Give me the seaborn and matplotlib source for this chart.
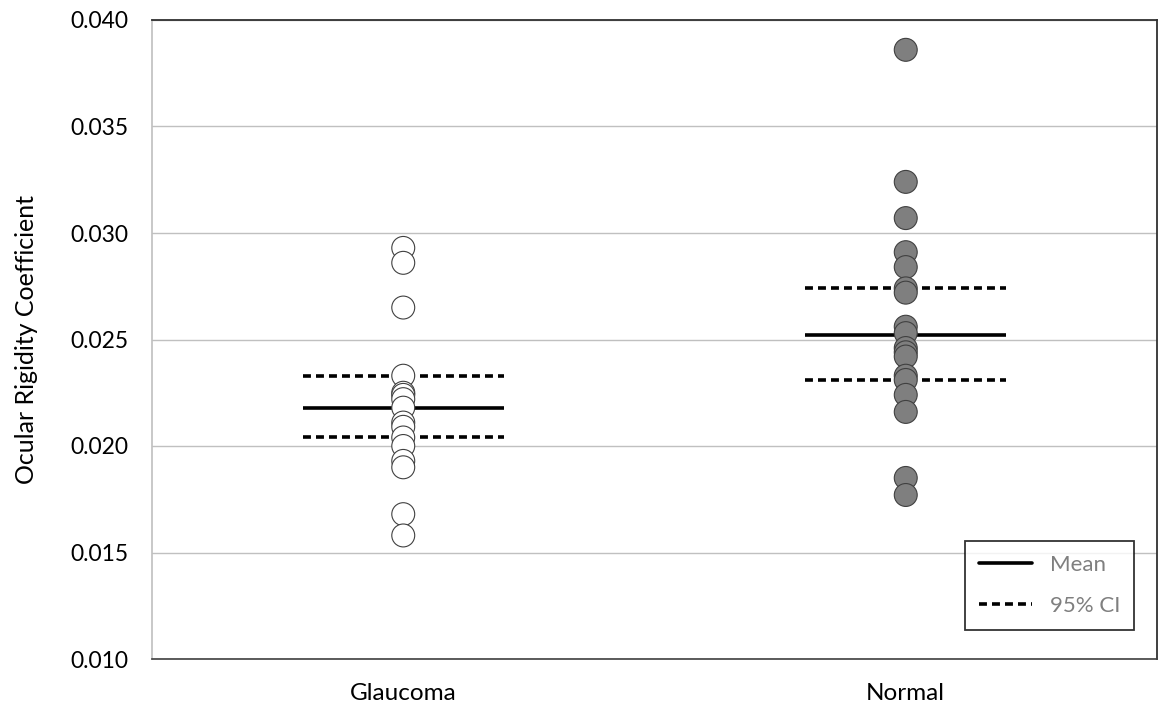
import matplotlib
matplotlib.use("Agg")
import matplotlib.pyplot as plt
import seaborn as sns
import pandas as pd
from matplotlib.lines import Line2D

categories = ["Glaucoma", "Normal"]
glaucoma = [0.0293, 0.0286, 0.0265, 0.0233, 0.0225, 0.0224, 0.0222, 0.0218,
            0.0211, 0.0209, 0.0204, 0.0200, 0.0193, 0.0190, 0.0168, 0.0158]
normal = [0.0386, 0.0324, 0.0307, 0.0291, 0.0284, 0.0274, 0.0272, 0.0256,
          0.0253, 0.0246, 0.0244, 0.0242, 0.0233, 0.0231, 0.0224, 0.0216,
          0.0185, 0.0177]
means = [0.0218, 0.0252]
ci_low = [0.0204, 0.0231]
ci_high = [0.0233, 0.0274]
yticks = [0.010, 0.015, 0.020, 0.025, 0.030, 0.035, 0.040]

df = pd.DataFrame({
    "group": ["Glaucoma"] * len(glaucoma) + ["Normal"] * len(normal),
    "value": glaucoma + normal,
})

sns.set_theme(style="white")
plt.rcParams["font.family"] = ["Lato", "DejaVu Sans"]

fig = plt.figure(figsize=(11.58, 7.15), dpi=100)
ax = fig.add_axes([152 / 1158, 1 - 659 / 715, (1157 - 152) / 1158, (659 - 20) / 715])

sns.stripplot(data=df, x="group", y="value", hue="group", order=categories,
              palette={"Glaucoma": "white", "Normal": "#7f7f7f"},
              jitter=False, size=16.5, linewidth=0.8, edgecolor="#404040",
              legend=False, ax=ax, zorder=3)

hw = 0.2
for i in range(len(categories)):
    ax.hlines(means[i], i - hw, i + hw, colors="black", linewidth=2.6, zorder=2)
    ax.hlines([ci_low[i], ci_high[i]], i - hw, i + hw, colors="black",
              linewidth=2.6, linestyles=(0, (2.2, 1.4)), zorder=2)

ax.set_xlim(-0.5, 1.5)
ax.set_ylim(0.010, 0.040)
ax.set_yticks(yticks)
ax.set_yticklabels([f"{t:.3f}" for t in yticks])
ax.yaxis.grid(True, color="#c0c0c0", linewidth=1.0)
ax.set_axisbelow(True)
ax.set_xlabel("")
ax.set_ylabel("Ocular Rigidity Coefficient", fontsize=18, color="black", labelpad=23)
ax.tick_params(axis="y", labelsize=16.5, colors="black", length=0, pad=17)
ax.tick_params(axis="x", labelsize=17.5, colors="black", length=0, pad=17)

for side in ["top", "right"]:
    ax.spines[side].set_color("#303030")
    ax.spines[side].set_linewidth(1.3)
ax.spines["left"].set_color("#bfbfbf")
ax.spines["left"].set_linewidth(1.2)
ax.spines["bottom"].set_color("#404040")
ax.spines["bottom"].set_linewidth(1.2)

handles = [Line2D([0], [0], color="black", linewidth=2.6),
           Line2D([0], [0], color="black", linewidth=2.6, linestyle=(0, (2.2, 1.4)))]
leg = ax.legend(handles, ["Mean", "95% CI"], loc="upper left",
                bbox_to_anchor=((965 - 152) / 1005, (659 - 541) / 639),
                frameon=True, fancybox=False, fontsize=16, handlelength=2.4,
                labelspacing=0.95, borderpad=0.62, handletextpad=0.8,
                borderaxespad=0)
leg.get_frame().set_edgecolor("black")
leg.get_frame().set_linewidth(1.3)
for t in leg.get_texts():
    t.set_color("#7f7f7f")

fig.savefig("out.png", dpi=100)
